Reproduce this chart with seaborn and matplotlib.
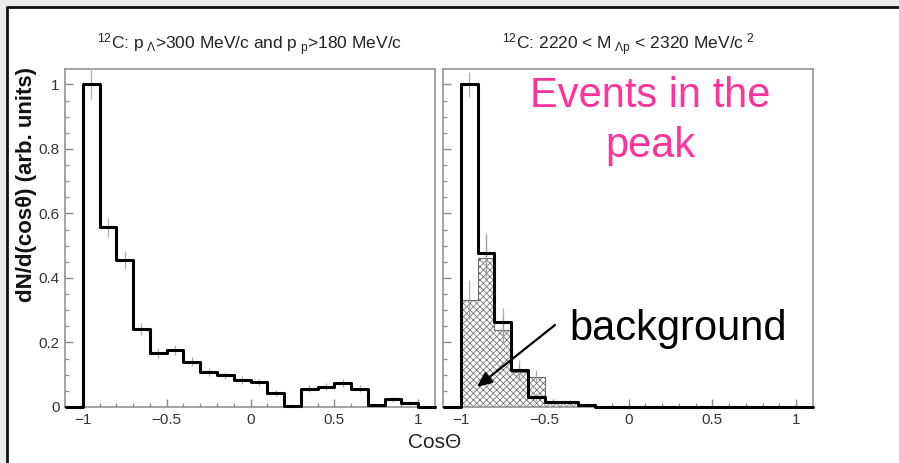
import numpy as np
import matplotlib
matplotlib.use("Agg")
import matplotlib.pyplot as plt
from matplotlib.patches import Rectangle
from matplotlib.lines import Line2D
import pandas as pd
import seaborn as sns

# ---------------- data ----------------
bin_edges = [-1.1, -1.0, -0.9, -0.8, -0.7, -0.6, -0.5, -0.4, -0.3, -0.2, -0.1,
             0.0, 0.1, 0.2, 0.3, 0.4, 0.5, 0.6, 0.7, 0.8, 0.9, 1.0, 1.1]
# left panel: 12C, p_Lambda > 300 MeV/c and p_p > 180 MeV/c
left_counts = [0.0, 1.0, 0.557, 0.455, 0.242, 0.168, 0.176, 0.141, 0.108, 0.098, 0.084,
               0.076, 0.043, 0.004, 0.057, 0.063, 0.074, 0.057, 0.005, 0.024, 0.013, 0.0]
left_errors = [0.0, 0.045, 0.03, 0.028, 0.02, 0.016, 0.016, 0.014, 0.013, 0.012, 0.012,
               0.011, 0.009, 0.004, 0.01, 0.011, 0.012, 0.01, 0.004, 0.007, 0.006, 0.0]
# right panel: events in the peak (2220 < M < 2320)
peak_counts = [0.0, 1.0, 0.476, 0.263, 0.115, 0.03, 0.016, 0.014, 0.007, 0.0, 0.0,
               0.0, 0.0, 0.0, 0.0, 0.0, 0.0, 0.0, 0.0, 0.0, 0.0, 0.0]
peak_errors = [0.0, 0.04, 0.065, 0.045, 0.03, 0.012, 0.008, 0.007, 0.005, 0.0, 0.0,
               0.0, 0.0, 0.0, 0.0, 0.0, 0.0, 0.0, 0.0, 0.0, 0.0, 0.0]
# right panel: background (hatched)
bkg_counts = [0.0, 0.333, 0.462, 0.238, 0.108, 0.094, 0.017, 0.012, 0.004, 0.0, 0.0,
              0.0, 0.0, 0.0, 0.0, 0.0, 0.0, 0.0, 0.0, 0.0, 0.0, 0.0]
bkg_errors = [0.0, 0.06, 0.07, 0.04, 0.025, 0.02, 0.008, 0.006, 0.003, 0.0, 0.0,
              0.0, 0.0, 0.0, 0.0, 0.0, 0.0, 0.0, 0.0, 0.0, 0.0, 0.0]

x_ticks = [-1, -0.5, 0, 0.5, 1]
x_ticklabels = ["\u22121", "\u22120.5", "0", "0.5", "1"]
y_ticks = [0, 0.2, 0.4, 0.6, 0.8, 1.0]
y_ticklabels = ["0", "0.2", "0.4", "0.6", "0.8", "1"]

title_left = r"$^{12}$C: p$_{\ \Lambda}$>300 MeV/c and p$_{\ \rm p}$>180 MeV/c"
title_right = r"$^{12}$C: 2220 < M$_{\ \Lambda \rm p}$ < 2320 MeV/c$^{\ 2}$"
ylabel = "dN/d(cos\u03b8) (arb. units)"
xlabel = "Cos\u0398"

# ---------------- style ----------------
sns.set_style("white")
plt.rcParams["font.family"] = ["Liberation Sans", "DejaVu Sans"]
plt.rcParams["mathtext.fontset"] = "custom"
plt.rcParams["mathtext.rm"] = "Liberation Sans"
plt.rcParams["mathtext.it"] = "Liberation Sans:italic"
plt.rcParams["mathtext.bf"] = "Liberation Sans:bold"
plt.rcParams["hatch.linewidth"] = 0.55

edges = list(bin_edges)
centers = [(a + b) / 2 for a, b in zip(bin_edges[:-1], bin_edges[1:])]
df = pd.DataFrame({"c": centers, "left": left_counts, "peak": peak_counts,
                   "bkg": bkg_counts})

W, H = 899, 463
fig = plt.figure(figsize=(W / 100, H / 100), dpi=100)
fig.patch.set_facecolor("white")


def fx(px):
    return px / W


def fy(py):
    return 1 - py / H


ax1 = fig.add_axes([fx(65), fy(407), fx(370), 338 / H])
ax2 = fig.add_axes([fx(443), fy(407), fx(370), 338 / H], sharey=ax1)

frame_col = "#8a8a8a"
for ax in (ax1, ax2):
    ax.set_facecolor("white")
    for s in ax.spines.values():
        s.set_color(frame_col)
        s.set_linewidth(1.1)

# left histogram
sns.histplot(data=df, x="c", weights="left", bins=edges, element="step", fill=False,
             color="black", linewidth=2.2, ax=ax1, zorder=3, clip_on=False)
ax1.errorbar(centers, left_counts, yerr=left_errors, fmt="none", ecolor="#9a9a9a",
             elinewidth=0.9, alpha=0.8, zorder=2)

# right: background hatched
sns.histplot(data=df, x="c", weights="bkg", bins=edges, element="step", fill=True,
             facecolor=(1, 1, 1, 1), edgecolor="#6e6e6e", hatch="xxxxx",
             linewidth=0.8, alpha=1, ax=ax2, zorder=2)
ax2.errorbar(centers, bkg_counts, yerr=bkg_errors, fmt="none", ecolor="#9a9a9a",
             elinewidth=0.9, alpha=0.8, zorder=2)
# right: events in the peak
sns.histplot(data=df, x="c", weights="peak", bins=edges, element="step", fill=False,
             color="black", linewidth=2.2, ax=ax2, zorder=3, clip_on=False)
ax2.errorbar(centers, peak_counts, yerr=peak_errors, fmt="none", ecolor="#9a9a9a",
             elinewidth=0.9, alpha=0.8, zorder=2)

for ax in (ax1, ax2):
    ax.set_xlim(-1.106, 1.10)
    ax.set_ylim(0, 1.048)
    ax.set_xlabel("")
    ax.set_ylabel("")
    ax.set_xticks(x_ticks)
    ax.set_xticklabels(x_ticklabels)
    ax.set_xticks(np.arange(-1.0, 1.05, 0.1), minor=True)
    ax.set_yticks(y_ticks)
    ax.set_yticks(np.arange(0, 1.05, 0.05), minor=True)
    ax.tick_params(axis="both", which="major", direction="in", length=6, width=1.0,
                   color=frame_col, labelsize=11, labelcolor="#333333", pad=4,
                   bottom=True, left=True, top=False, right=False)
    ax.tick_params(axis="both", which="minor", direction="in", length=3, width=0.9,
                   color=frame_col, bottom=True, left=True, top=False, right=False)

ax1.set_yticklabels(y_ticklabels)
ax2.tick_params(axis="y", which="both", labelleft=False)

# titles
ax1.text(0.5, 1.071, title_left, transform=ax1.transAxes, ha="center", va="center",
         fontsize=12.5, color="#222222")
ax2.text(0.5, 1.071, title_right, transform=ax2.transAxes, ha="center", va="center",
         fontsize=12.5, color="#222222")

# axis labels
fig.text(fx(27), fy(185), ylabel, rotation=90, ha="center", va="center",
         fontsize=16, fontweight="bold", color="#111111")
fig.text(fx(435), fy(443), xlabel, ha="center", va="center", fontsize=15,
         color="#222222")

# annotations
fig.text(fx(650), fy(107), "Events in the", ha="center", va="baseline",
         fontsize=30, color="#ff3399")
fig.text(fx(650), fy(157), "peak", ha="center", va="baseline",
         fontsize=30, color="#ff3399")
fig.text(fx(678), fy(340), "background", ha="center", va="baseline",
         fontsize=30, color="black")
ax2.annotate("", xy=(fx(477), fy(387)), xycoords="figure fraction",
             xytext=(fx(555), fy(325)), textcoords="figure fraction",
             arrowprops=dict(arrowstyle="-|>,head_length=0.9,head_width=0.4",
                             color="black", lw=1.6, shrinkA=0, shrinkB=0))

# slide border decoration
fig.patches.append(Rectangle((0, fy(6)), 1, 6 / H, transform=fig.transFigure,
                             facecolor="#e9ebeb", edgecolor="none", zorder=0))
fig.patches.append(Rectangle((0, 0), 6 / W, 1, transform=fig.transFigure,
                             facecolor="#e9ebeb", edgecolor="none", zorder=0))
fig.lines.append(Line2D([fx(7), 1], [fy(7), fy(7)], transform=fig.transFigure,
                        color="#111111", lw=2.0))
fig.lines.append(Line2D([fx(7), fx(7)], [0, fy(7)], transform=fig.transFigure,
                        color="#111111", lw=2.0))

fig.savefig("out.png", dpi=100)
